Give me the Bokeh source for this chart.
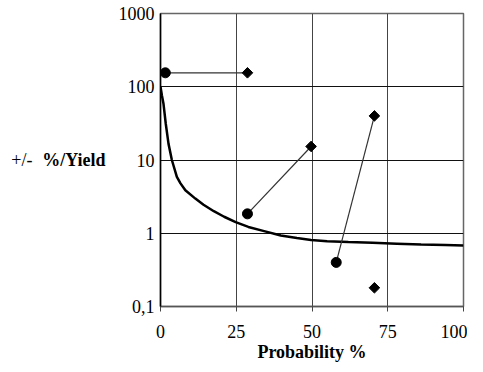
import math
from bokeh.plotting import figure
from bokeh.models import FixedTicker, LinearAxis
from bokeh.embed import file_html
from bokeh.resources import INLINE

# Curve data (Probability %, +/- %/Yield)
curve_x = [0, 0.5, 1.0, 1.75, 2.65, 3.75, 5.4, 6.6, 8.2, 11.5, 14.2, 17.6, 21, 24.8, 29,
           34.2, 39.7, 45, 49.7, 55, 62, 70, 78, 86, 94, 100]
curve_y = [100, 75, 58, 31, 16.6, 10, 5.9, 4.8, 3.86, 2.97, 2.45, 2.0, 1.68, 1.42, 1.22,
           1.07, 0.93, 0.86, 0.81, 0.78, 0.76, 0.74, 0.72, 0.70, 0.69, 0.68]

# Circle points
circle_x = [1.6, 28.7, 58]
circle_y = [155, 1.84, 0.40]

# Diamond points
diamond_x = [28.7, 49.7, 70.6, 70.6]
diamond_y = [155, 15.3, 40, 0.18]

# Connecting segments: circle i -> diamond i
seg_from = [0, 1, 2]
seg_to = [0, 1, 2]

x_ticks = [0, 25, 50, 75, 100]
y_ticks = [0.1, 1, 10, 100, 1000]
y_tick_labels = ["0,1", "1", "10", "100", "1000"]

FONT = "Liberation Serif"

p = figure(width=467, height=364, x_range=(0, 100), y_range=(0.1, 1000),
           y_axis_type="log", output_backend="svg", toolbar_location=None,
           min_border_left=160, min_border_right=4, min_border_top=13, min_border_bottom=56)
p.background_fill_color = "white"
p.border_fill_color = "white"
p.outline_line_color = "#666666"
p.outline_line_width = 1.5

# grid
p.xgrid.ticker = FixedTicker(ticks=x_ticks)
p.ygrid.ticker = FixedTicker(ticks=y_ticks)
p.xgrid.grid_line_color = "#444444"
p.ygrid.grid_line_color = "#111111"
p.xgrid.grid_line_width = 1
p.ygrid.grid_line_width = 1

# x axis
xa = p.xaxis[0]
xa.ticker = FixedTicker(ticks=x_ticks)
xa.major_tick_out = 5
xa.major_tick_in = 0
xa.minor_tick_out = 0
xa.minor_tick_in = 0
xa.major_tick_line_color = "#444444"
xa.axis_line_color = "#555555"
xa.axis_line_width = 1.5
xa.major_label_text_font = FONT
xa.major_label_text_font_size = "18px"
xa.major_label_text_color = "black"
xa.major_label_standoff = 13
xa.axis_label = "Probability %"
xa.axis_label_text_font = FONT
xa.axis_label_text_font_style = "bold"
xa.axis_label_text_font_size = "18px"
xa.axis_label_text_color = "black"
xa.axis_label_standoff = 1

# y axis
ya = p.yaxis[0]
ya.ticker = FixedTicker(ticks=y_ticks)
ya.major_label_overrides = {t: l for t, l in zip(y_ticks, y_tick_labels)}
ya.major_tick_out = 0
ya.major_tick_in = 0
ya.minor_tick_out = 0
ya.minor_tick_in = 0
ya.axis_line_color = "black"
ya.axis_line_width = 1.5
ya.major_label_text_font = FONT
ya.major_label_text_font_size = "18px"
ya.major_label_text_color = "black"
ya.major_label_standoff = 6
ya.axis_label = "%/Yield"
ya.axis_label_orientation = "horizontal"
ya.axis_label_text_font = FONT
ya.axis_label_text_font_style = "bold"
ya.axis_label_text_font_size = "18px"
ya.axis_label_text_color = "black"
ya.axis_label_standoff = 10

# extra left axis carrying the regular-weight "+/-" prefix of the y label
ya2 = LinearAxis(ticker=FixedTicker(ticks=[]), axis_label="+/-",
                 axis_label_orientation="horizontal", axis_line_color=None,
                 major_tick_line_color=None, minor_tick_line_color=None,
                 axis_label_text_font=FONT, axis_label_text_font_size="18px",
                 axis_label_text_font_style="normal", axis_label_text_color="black",
                 axis_label_standoff=7)
p.add_layout(ya2, "left")

# curve
p.line(curve_x, curve_y, line_color="black", line_width=2.5)

# connecting segments
p.segment(x0=[circle_x[i] for i in seg_from], y0=[circle_y[i] for i in seg_from],
          x1=[diamond_x[j] for j in seg_to], y1=[diamond_y[j] for j in seg_to],
          line_color="#333333", line_width=1.2)

# markers
p.scatter(circle_x, circle_y, marker="circle", size=10, fill_color="black", line_color="black")
p.scatter(diamond_x, diamond_y, marker="square", angle=math.pi / 4, size=7.5,
          fill_color="black", line_color="black")

open("out.html", "w").write(file_html(p, INLINE))
